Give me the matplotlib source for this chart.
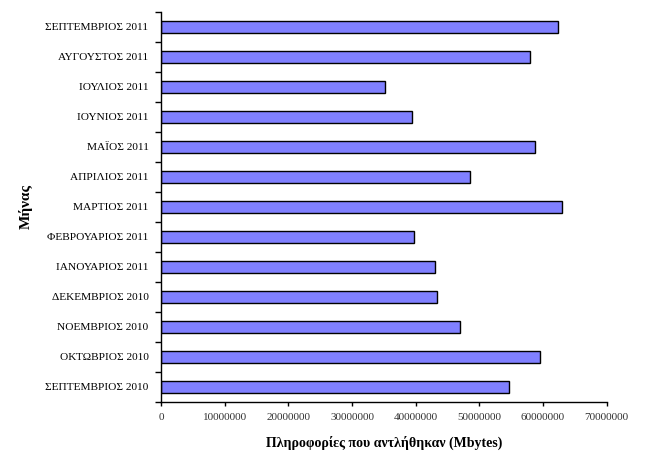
import numpy as np
import matplotlib
matplotlib.use("Agg")
import matplotlib.pyplot as plt
from matplotlib.ticker import FixedLocator

plt.rcParams['font.family'] = ['Liberation Serif', 'DejaVu Serif']

# months, bottom to top
months = ["ΣΕΠΤΕΜΒΡΙΟΣ 2010", "ΟΚΤΩΒΡΙΟΣ 2010", "ΝΟΕΜΒΡΙΟΣ 2010",
          "ΔΕΚΕΜΒΡΙΟΣ 2010", "ΙΑΝΟΥΑΡΙΟΣ 2011", "ΦΕΒΡΟΥΑΡΙΟΣ 2011",
          "ΜΑΡΤΙΟΣ 2011", "ΑΠΡΙΛΙΟΣ 2011", "ΜΑΪΟΣ 2011", "ΙΟΥΝΙΟΣ 2011",
          "ΙΟΥΛΙΟΣ 2011", "ΑΥΓΟΥΣΤΟΣ 2011", "ΣΕΠΤΕΜΒΡΙΟΣ 2011"]
mbytes = [54600000, 59500000, 47000000, 43400000, 43100000, 39800000,
          62900000, 48600000, 58800000, 39400000, 35200000, 58000000,
          62400000]
xticks = [0, 10000000, 20000000, 30000000, 40000000, 50000000, 60000000, 70000000]

fig = plt.figure(figsize=(6.5, 4.75), dpi=100)
ax = fig.add_axes([0.2477, 0.1543, 0.6857, 0.8211])

y = np.arange(len(months))
ax.barh(y, mbytes, height=0.4, color="#8080FF", edgecolor="black", linewidth=1.0)

ax.set_xlim(0, 70000000)
ax.set_ylim(-0.5, len(months) - 0.5)
ax.set_xticks(xticks)
ax.set_xticklabels([str(v) for v in xticks], fontsize=8, color="#333333")
ax.set_yticks(y)
ax.set_yticklabels(months, fontsize=8.2)
ax.yaxis.set_minor_locator(FixedLocator(np.arange(-0.5, len(months), 1.0)))
ax.tick_params(axis="y", which="major", length=0, pad=9)
ax.tick_params(axis="y", which="minor", length=4, width=1, direction="out")
ax.tick_params(axis="x", length=3, width=1, direction="out", pad=5)

for s in ["top", "right"]:
    ax.spines[s].set_visible(False)
for s in ["left", "bottom"]:
    ax.spines[s].set_linewidth(1)

ax.set_xlabel("Πληροφορίες που αντλήθηκαν (Mbytes)", fontsize=10,
              fontweight="bold", labelpad=10)
ax.set_ylabel("Μήνας", fontsize=11, fontweight="bold", labelpad=9)

fig.savefig("out.png", dpi=100)
